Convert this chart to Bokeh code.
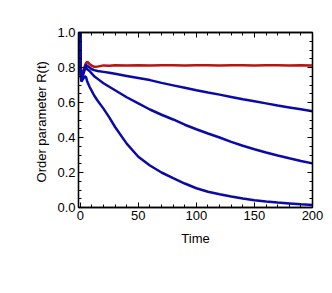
from bokeh.plotting import figure
from bokeh.models import LinearAxis, Range1d, FixedTicker, CustomJSTickFormatter
from bokeh.embed import file_html
from bokeh.resources import INLINE

t = [0, 0.4, 1, 2, 3, 4, 5, 6, 8, 10, 12, 15, 20, 25, 30, 40, 50, 60, 70,
     80, 90, 100, 110, 120, 130, 140, 150, 160, 170, 180, 190, 200]

r_red = [1.0, 0.78, 0.75, 0.77, 0.79, 0.81, 0.825, 0.833, 0.82, 0.81, 0.804,
         0.805, 0.812, 0.81, 0.813, 0.812, 0.813, 0.812, 0.813, 0.813, 0.812,
         0.813, 0.813, 0.812, 0.813, 0.813, 0.812, 0.813, 0.813, 0.812, 0.813, 0.812]

r_blue1 = [1.0, 0.77, 0.74, 0.76, 0.78, 0.80, 0.815, 0.81, 0.80, 0.79, 0.785,
           0.78, 0.775, 0.77, 0.764, 0.752, 0.74, 0.728, 0.712, 0.698, 0.684,
           0.67, 0.657, 0.645, 0.632, 0.619, 0.607, 0.595, 0.583, 0.572, 0.561, 0.55]

r_blue2 = [1.0, 0.76, 0.73, 0.75, 0.77, 0.79, 0.80, 0.79, 0.78, 0.765, 0.75,
           0.735, 0.71, 0.69, 0.67, 0.63, 0.595, 0.56, 0.53, 0.503, 0.473, 0.447,
           0.423, 0.40, 0.375, 0.353, 0.333, 0.314, 0.297, 0.281, 0.266, 0.252]

r_blue3 = [1.0, 0.75, 0.72, 0.73, 0.74, 0.75, 0.745, 0.72, 0.69, 0.665, 0.64,
           0.61, 0.565, 0.515, 0.46, 0.365, 0.29, 0.24, 0.20, 0.168, 0.137, 0.11,
           0.09, 0.076, 0.063, 0.051, 0.042, 0.034, 0.028, 0.023, 0.018, 0.014]

x_ticks = [0, 50, 100, 150, 200]
y_ticks = [0.0, 0.2, 0.4, 0.6, 0.8, 1.0]

FONT = "Liberation Sans"
BLUE = "#0a0aa8"
RED = "#b81414"

p = figure(width=328, height=258, output_backend="svg", toolbar_location=None,
           x_range=Range1d(-1.5, 200), y_range=Range1d(0, 1),
           x_axis_label="Time", y_axis_label="Order parameter  R(t)",
           min_border_left=78, min_border_top=32, min_border_right=16,
           min_border_bottom=51)
p.grid.visible = False
p.outline_line_color = "black"
p.outline_line_width = 1.3
p.background_fill_color = "white"
p.border_fill_color = "white"

p.line(t, r_red, line_color=RED, line_width=2.5)
p.line(t, r_blue3, line_color=BLUE, line_width=2.5)
p.line(t, r_blue2, line_color=BLUE, line_width=2.5)
p.line(t, r_blue1, line_color=BLUE, line_width=2.5)

xt = FixedTicker(ticks=x_ticks, minor_ticks=list(range(0, 201, 10)))
yt = FixedTicker(ticks=y_ticks, minor_ticks=[i * 0.05 for i in range(21)])


def style(ax):
    ax.axis_line_color = "black"
    ax.axis_line_width = 1.3
    ax.major_tick_in = 5
    ax.major_tick_out = 0
    ax.minor_tick_in = 3
    ax.minor_tick_out = 0
    ax.major_tick_line_color = "black"
    ax.minor_tick_line_color = "black"
    ax.major_label_text_font = FONT
    ax.major_label_text_font_size = "13px"
    ax.major_label_text_color = "black"
    ax.major_label_standoff = 3
    ax.axis_label_text_font = FONT
    ax.axis_label_text_font_size = "13px"
    ax.axis_label_text_font_style = "normal"
    ax.axis_label_text_color = "black"
    ax.axis_label_standoff = 8


p.xaxis.ticker = xt
p.yaxis.ticker = yt
style(p.xaxis[0])
style(p.yaxis[0])
p.yaxis[0].axis_label_standoff = 5
p.xaxis[0].formatter = CustomJSTickFormatter(code="return tick.toFixed(0);")
p.yaxis[0].formatter = CustomJSTickFormatter(code="return tick.toFixed(1);")

blank = CustomJSTickFormatter(code="return '';")
top = LinearAxis(ticker=xt, formatter=blank)
right = LinearAxis(ticker=yt, formatter=blank)
style(top)
style(right)
top.major_label_standoff = 0
right.major_label_standoff = 0
p.add_layout(top, "above")
p.add_layout(right, "right")

open("out.html", "w").write(file_html(p, INLINE))
